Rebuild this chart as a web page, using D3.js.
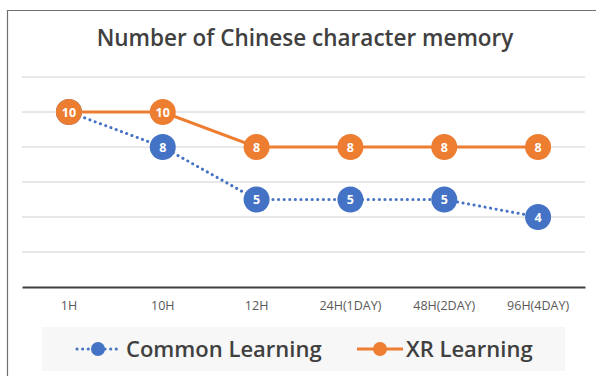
<!DOCTYPE html>
<html>
<head>
<meta charset="utf-8">
<script src="https://cdn.jsdelivr.net/npm/d3@7"></script>
<style>
  html, body { margin: 0; padding: 0; background: #fff; }
  svg { display: block; }
  text { font-family: "Open Sans", "Noto Sans", sans-serif; }
</style>
</head>
<body>
<svg id="chart" width="596" height="376"></svg>
<script>
// Memory test checkpoints and the number of characters remembered
const categories = ["1H", "10H", "12H", "24H(1DAY)", "48H(2DAY)", "96H(4DAY)"];
const commonLearning = [10, 8, 5, 5, 5, 4];
const xrLearning = [10, 10, 8, 8, 8, 8];
const seriesNames = ["Common Learning", "XR Learning"];
const yTicks = [0, 2, 4, 6, 8, 10, 12];
const chartTitle = "Number of Chinese character memory";

const blue = "#4472C4";
const orange = "#ED7D31";

const svg = d3.select("#chart");

// outer frame (top and left edges visible)
svg.append("path")
  .attr("d", "M7.5,376 V10.5 H596")
  .attr("fill", "none")
  .attr("stroke", "#6f6f6f")
  .attr("stroke-width", 1.2);

svg.append("text")
  .attr("x", 305).attr("y", 46)
  .attr("text-anchor", "middle")
  .attr("font-size", 22.5).attr("font-weight", 600)
  .attr("fill", "#404040")
  .text(chartTitle);

const x = d3.scaleBand().domain(categories).range([22, 585]);
const y = d3.scaleLinear().domain([0, 12]).range([287, 77]);

// horizontal gridlines
svg.append("g").selectAll("line")
  .data(yTicks.filter(d => d > 0))
  .join("line")
  .attr("x1", 22).attr("x2", 585)
  .attr("y1", d => y(d)).attr("y2", d => y(d))
  .attr("stroke", "#d0d0d0").attr("stroke-width", 1);

// category axis
const xAxis = svg.append("g")
  .attr("transform", `translate(0,${y(0)})`)
  .call(d3.axisBottom(x).tickSize(0).tickPadding(14));
xAxis.select(".domain").attr("stroke", "#404040").attr("stroke-width", 2);
xAxis.selectAll("text")
  .attr("font-size", 12.5)
  .attr("fill", "#595959")
  .attr("font-family", "\"Open Sans\", sans-serif");

const cx = d => x(d) + x.bandwidth() / 2;
const line = d3.line().x(d => cx(d.c)).y(d => y(d.v));

const commonPts = categories.map((c, i) => ({ c, v: commonLearning[i] }));
const xrPts = categories.map((c, i) => ({ c, v: xrLearning[i] }));

svg.append("path")
  .datum(commonPts)
  .attr("d", line)
  .attr("fill", "none")
  .attr("stroke", blue)
  .attr("stroke-width", 3)
  .attr("stroke-linecap", "round")
  .attr("stroke-dasharray", "0.1,5.5");

svg.append("path")
  .datum(xrPts)
  .attr("d", line)
  .attr("fill", "none")
  .attr("stroke", orange)
  .attr("stroke-width", 3);

function drawMarkers(pts, color) {
  const g = svg.append("g").selectAll("g")
    .data(pts).join("g")
    .attr("transform", d => `translate(${cx(d.c)},${y(d.v)})`);
  g.append("circle").attr("r", 13).attr("fill", color);
  g.append("text")
    .attr("text-anchor", "middle")
    .attr("dy", "0.36em")
    .attr("font-size", 12.5).attr("font-weight", 700)
    .attr("fill", "#fff")
    .text(d => d.v);
}
drawMarkers(commonPts, blue);
drawMarkers(xrPts, orange);

// legend
const legend = svg.append("g");
legend.append("rect")
  .attr("x", 42).attr("y", 327).attr("width", 523).attr("height", 44)
  .attr("fill", "#f7f7f7");

legend.append("line")
  .attr("x1", 77).attr("x2", 119).attr("y1", 349).attr("y2", 349)
  .attr("stroke", blue).attr("stroke-width", 3)
  .attr("stroke-linecap", "round").attr("stroke-dasharray", "0.1,5.5");
legend.append("circle").attr("cx", 98).attr("cy", 349).attr("r", 7).attr("fill", blue);
legend.append("text")
  .attr("x", 126).attr("y", 357)
  .attr("font-size", 22).attr("font-weight", 600).attr("fill", "#404040")
  .text(seriesNames[0]);

legend.append("line")
  .attr("x1", 357).attr("x2", 403).attr("y1", 349).attr("y2", 349)
  .attr("stroke", orange).attr("stroke-width", 3);
legend.append("circle").attr("cx", 380).attr("cy", 349).attr("r", 7).attr("fill", orange);
legend.append("text")
  .attr("x", 406).attr("y", 357)
  .attr("font-size", 22).attr("font-weight", 600).attr("fill", "#404040")
  .text(seriesNames[1]);
</script>
</body>
</html>
